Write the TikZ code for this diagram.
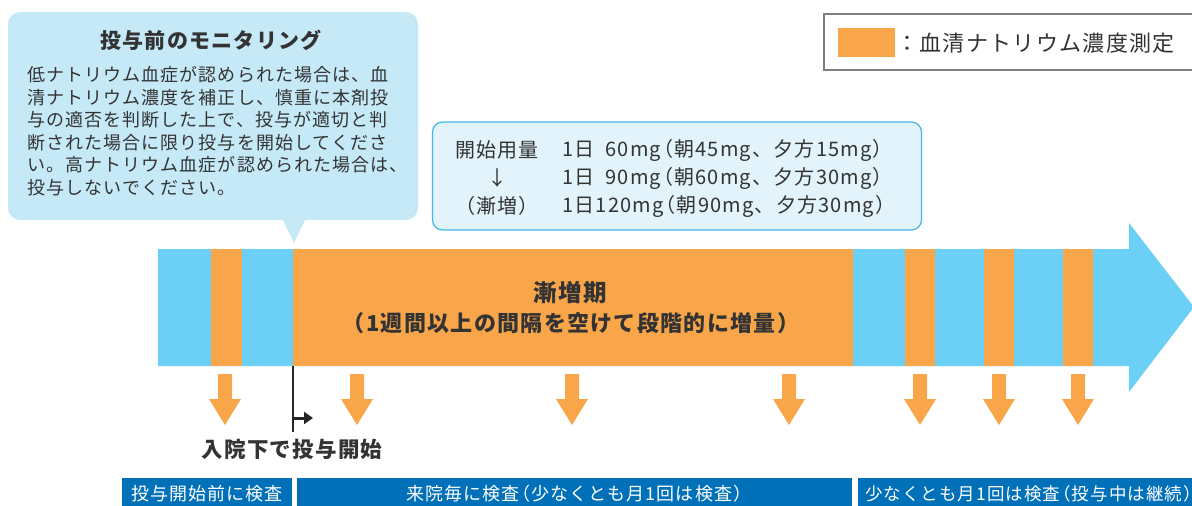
\documentclass[tikz,border=0pt]{standalone}
\usepackage{fontspec}
\setmainfont[LetterSpace=6]{Noto Sans CJK JP}
\usetikzlibrary{arrows.meta,positioning,calc}

\definecolor{bandblue}{HTML}{6BCFF6}
\definecolor{bandorange}{HTML}{F9A64A}
\definecolor{calloutblue}{HTML}{C6E9F8}
\definecolor{doseline}{HTML}{45B6E6}
\definecolor{dosefill}{HTML}{E2F3FB}
\definecolor{barblue}{HTML}{0070B9}
\definecolor{textdark}{HTML}{333333}
\definecolor{legendgray}{HTML}{7F7F7F}

% tight brackets
\newcommand{\lpar}{\kern-0.4em（}
\newcommand{\rpar}{）\kern-0.4em}

\begin{document}
\begin{tikzpicture}[x=1pt, y=-1pt,
    every node/.style={inner sep=0pt, text=textdark},
    body/.style={font=\fontsize{18}{22.6}\selectfont, align=left},
    heading/.style={font=\fontsize{21}{26}\selectfont\bfseries},
    dosetext/.style={font=\fontsize{20}{24}\selectfont},
    bartext/.style={font=\fontsize{18}{22}\selectfont, text=white},
    callout/.style={fill=calloutblue, rounded corners=12pt},
    dosebox/.style={draw=doseline, line width=1.2pt, fill=dosefill, rounded corners=10pt,
                    minimum width=489pt, minimum height=108pt},
    dropdown/.style={fill=bandorange}]
\useasboundingbox (0,0) rectangle (1192,506);
\clip (0,0) rectangle (1192,506);

% monitoring callout
\fill[callout] (8,12) rectangle (418,220);
\fill[calloutblue] (282,218) -- (306,218) -- (294,243) -- cycle;
\node[heading] (montitle) at (211,40) {投与前のモニタリング};
\node[body, anchor=north west] (monbody) at (27,66)
  {低ナトリウム血症が認められた場合は、血\\
   清ナトリウム濃度を補正し、慎重に本剤投\\
   与の適否を判断した上で、投与が適切と判\\
   断された場合に限り投与を開始してくださ\\
   い。高ナトリウム血症が認められた場合は、\\
   投与しないでください。};

% legend
\draw[legendgray, line width=1.2pt] (824,14) rectangle (1210,70);
\fill[bandorange] (838,28) rectangle (895,57);
\node[anchor=west, font=\fontsize{22}{26}\selectfont] (legend) at (896,43) {：血清ナトリウム濃度測定};

% dose box
\node[dosebox] (dose) at (677,176) {};
\node[dosetext] (dose1) at (497,150) {開始用量};
\node[dosetext] (dose2) at (497,178) {↓};
\node[dosetext] (dose3) at (497,206) {（漸増）};
\node[dosetext, anchor=west] (step1) at (562,150) {1日\hphantom{1}60mg\lpar 朝45mg、夕方15mg\rpar};
\node[dosetext, anchor=west] (step2) at (562,178) {1日\hphantom{1}90mg\lpar 朝60mg、夕方30mg\rpar};
\node[dosetext, anchor=west] (step3) at (562,206) {1日120mg\lpar 朝90mg、夕方30mg\rpar};

% time band
\fill[bandblue] (158,249) -- (1129,249) -- (1129,223) -- (1194,307) -- (1129,392)
  -- (1129,366) -- (158,366) -- cycle;
\foreach \a/\b in {211/242, 293/853, 905/935, 984/1014, 1063/1093}
  \fill[bandorange] (\a,249) rectangle (\b,366);
\node[heading, font=\fontsize{23.5}{28}\selectfont\bfseries] (phase) at (570,293) {漸増期};
\node[heading, font=\fontsize{22}{26}\selectfont\bfseries] (phasenote) at (571,323)
  {（1週間以上の間隔を空けて段階的に増量）};

% measurement arrows
\foreach \x in {225,357,572,789,920,999,1078}
  \fill[dropdown] (\x-7,374) -- (\x+7,374) -- (\x+7,399) -- (\x+16,399) -- (\x,425)
    -- (\x-16,399) -- (\x-7,399) -- cycle;

% start of dosing
\coordinate (start) at (293,366);
\coordinate (startend) at (293,432);
\coordinate (turn) at (293,418);
\coordinate (turnend) at (313,418);
\draw[line width=2.4pt, black!85] (start) -- (startend);
\draw[black!85, line width=3pt, -{Triangle[length=9pt, width=12pt]}] (turn) -- (turnend);
\node[heading, font=\fontsize{21.5}{26}\selectfont\bfseries] (admit) at (292,449) {入院下で投与開始};

% check bars
\fill[barblue] (122,478) rectangle (292,510);
\fill[barblue] (297,478) rectangle (852,510);
\fill[barblue] (858,478) rectangle (1210,510);
\node[bartext] (check1) at (207,494) {投与開始前に検査};
\node[bartext] (check2) at (575,494) {来院毎に検査\lpar 少なくとも月1回は検査\rpar};
\node[bartext, anchor=west, font=\fontsize{17.5}{22}\selectfont] (check3) at (865,494)
  {少なくとも月1回は検査\lpar 投与中は継続\rpar};
\end{tikzpicture}
\end{document}
